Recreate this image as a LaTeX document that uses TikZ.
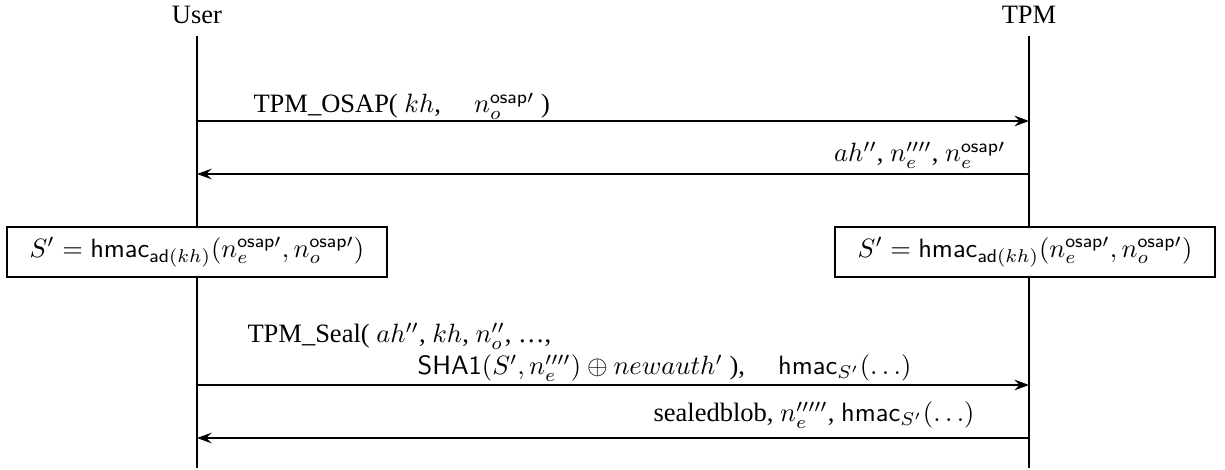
\documentclass[tikz,border=0pt]{standalone}
\usepackage{amsmath,amssymb}
\usepackage{fontspec}
\setmainfont{Liberation Serif}
\usepackage{tikz}
\usetikzlibrary {arrows.meta}

\tikzset{
  msg/.style={-{Stealth[length=5.5pt, width=4pt, inset=2pt]}, line width=0.8pt},
  life/.style={line width=0.8pt},
  lbl/.style={inner sep=0pt},
  calc/.style={draw, fill=white, line width=0.8pt, minimum width=143.4pt, minimum height=18.9pt, inner sep=0pt}
}
\newcommand{\osap}{\mathsf{osap}\prime}

\begin{document}
\begin{tikzpicture}[x=0.3774pt, y=-0.3774pt]
 \useasboundingbox (0,0) rectangle (1225,470);
 \node (user) at (197,15) {User};
 \node (tpm) at (1029,15) {TPM};
 \coordinate (ubot) at (197,468);
 \coordinate (tbot) at (1029,468);
 \draw[life] (197,36)--(ubot);
 \draw[life] (1029,36)--(tbot);
 % messages
 \foreach \y/\n in {121/1, 174/2, 385/3, 438/4} {
   \coordinate (u\n) at (197,\y);
   \coordinate (t\n) at (1029,\y);
 }
 \draw[msg] (u1)--(t1);
 \draw[msg] (t2)--(u2);
 \draw[msg] (u3)--(t3);
 \draw[msg] (t4)--(u4);
 \node[lbl, anchor=base west] (osap) at (253,113) {TPM\_OSAP( $kh$, \quad $n_o^{\osap}$ )};
 \node[lbl, anchor=base east] (reply) at (1006,162) {$ah''$, $n_e''''$, $n_e^{\osap}$};
 \node[calc] (su) at (197,252) {$S' = \mathsf{hmac}_{\mathsf{ad}(kh)}(n_e^{\osap}, n_o^{\osap})$};
 \node[calc] (st) at (1025,252) {$S' = \mathsf{hmac}_{\mathsf{ad}(kh)}(n_e^{\osap}, n_o^{\osap})$};
 \node[lbl, anchor=base west] (seal) at (247,343) {TPM\_Seal( $ah''$, $kh$, $n_o''$, \ldots,};
 \node[lbl, anchor=base west] (sealb) at (417,375) {$\mathsf{SHA1}(S', n_e'''') \oplus newauth'$ ), \quad $\mathsf{hmac}_{S'}(\ldots)$};
 \node[lbl, anchor=base east] (blob) at (975,422) {sealedblob, $n_e'''''$, $\mathsf{hmac}_{S'}(\ldots)$};
\end{tikzpicture}
\end{document}
